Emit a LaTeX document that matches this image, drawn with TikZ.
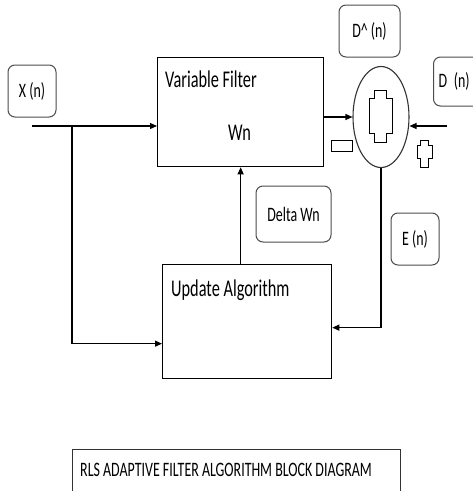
\documentclass[tikz,border=0pt]{standalone}
\usepackage{fontspec}
\setmainfont{Carlito}[FakeStretch=0.68]
\usetikzlibrary{shapes.geometric,arrows.meta,positioning}
\tikzset{
  blockbox/.style={
    rectangle, draw=black, line width=1.3pt, anchor=north west, inner sep=0pt
  },
  blocklabel/.style={
    anchor=base west, inner sep=0pt, font=\fontsize{24}{28}\selectfont
  },
  tagbox/.style={
    rectangle, rounded corners=7pt, draw=black!70, line width=1pt,
    inner sep=0pt, font=\fontsize{20.5}{24}\selectfont
  },
  arrow/.style={-{Triangle[length=7pt,width=6pt]}, line width=1.2pt},
  pics/plusmark/.style n args={2}{
    code={
      \draw[line width=1pt] (0.26,0) -- (0.74,0) -- (0.74,#1) -- (1,#1) -- (1,#2)
        -- (0.74,#2) -- (0.74,1) -- (0.26,1) -- (0.26,#2) -- (0,#2) -- (0,#1)
        -- (0.26,#1) -- cycle;
    }
  }
}

\begin{document}
\begin{tikzpicture}[x=1pt, y=-1pt]
  \clip (0,0) rectangle (473,491);

  % filter and update blocks
  \node[blockbox, minimum width=166, minimum height=109] (filter) at (157,57) {};
  \node[blocklabel] (fname) at (165,87) {Variable Filter};
  \node[blocklabel] (wn) at (228,140) {Wn};
  \node[blockbox, minimum width=169, minimum height=114] (update) at (162,264) {};
  \node[blocklabel] (uname) at (171,296) {Update Algorithm};

  % summing junction with its signs
  \node[ellipse, draw=black!80, line width=1.1pt, minimum width=56,
    minimum height=101, inner sep=0pt] (sum) at (381,117) {};
  \pic[xscale=23, yscale=52] at (369,90) {plusmark={0.16}{0.83}};
  \node[rectangle, draw, line width=1pt, minimum width=21, minimum height=11,
    inner sep=0pt] (minus) at (341.5,145.5) {};
  \pic[xscale=15, yscale=27] at (417,140) {plusmark={0.19}{0.67}};

  % signal tags
  \node[tagbox, minimum width=48, minimum height=52] (xin) at (32,91) {X (n)};
  \node[tagbox, minimum width=61, minimum height=52] (dhat) at (369.5,31)
    {D\textasciicircum{} (n)};
  \node[tagbox, minimum width=60, minimum height=49, anchor=west,
    inner xsep=5pt, text width=50pt, align=left] (dn) at (433,81.5) {D (n)};
  \node[tagbox, minimum width=75, minimum height=56] (dwn) at (293.5,214) {Delta Wn};
  \node[tagbox, minimum width=48, minimum height=52] (en) at (415,239) {E (n)};

  % caption
  \node[blockbox, draw=black!80, line width=1pt, minimum width=328,
    minimum height=60] (caption) at (72,449) {};
  \node[anchor=base west, inner sep=0pt, font=\fontsize{20.5}{24}\selectfont]
    (captext) at (80,476) {RLS ADAPTIVE FILTER ALGORITHM BLOCK DIAGRAM};

  % signal flow
  \coordinate (xstart) at (32,126);
  \coordinate (split) at (72,126);
  \coordinate (dfeed) at (447,126);
  \draw[arrow] (xstart) -- (filter.west |- xstart);
  \draw[arrow] (split) |- ([yshift=-22pt]update.west);
  \draw[arrow] (update.north -| filter.south) -- (filter.south);
  \draw[arrow] (filter.east |- sum) -- (sum.west);
  \draw[arrow] (dfeed) -- (sum.east |- dfeed);
  \draw[arrow] (sum.south) |- ([yshift=-6pt]update.east);
\end{tikzpicture}
\end{document}
